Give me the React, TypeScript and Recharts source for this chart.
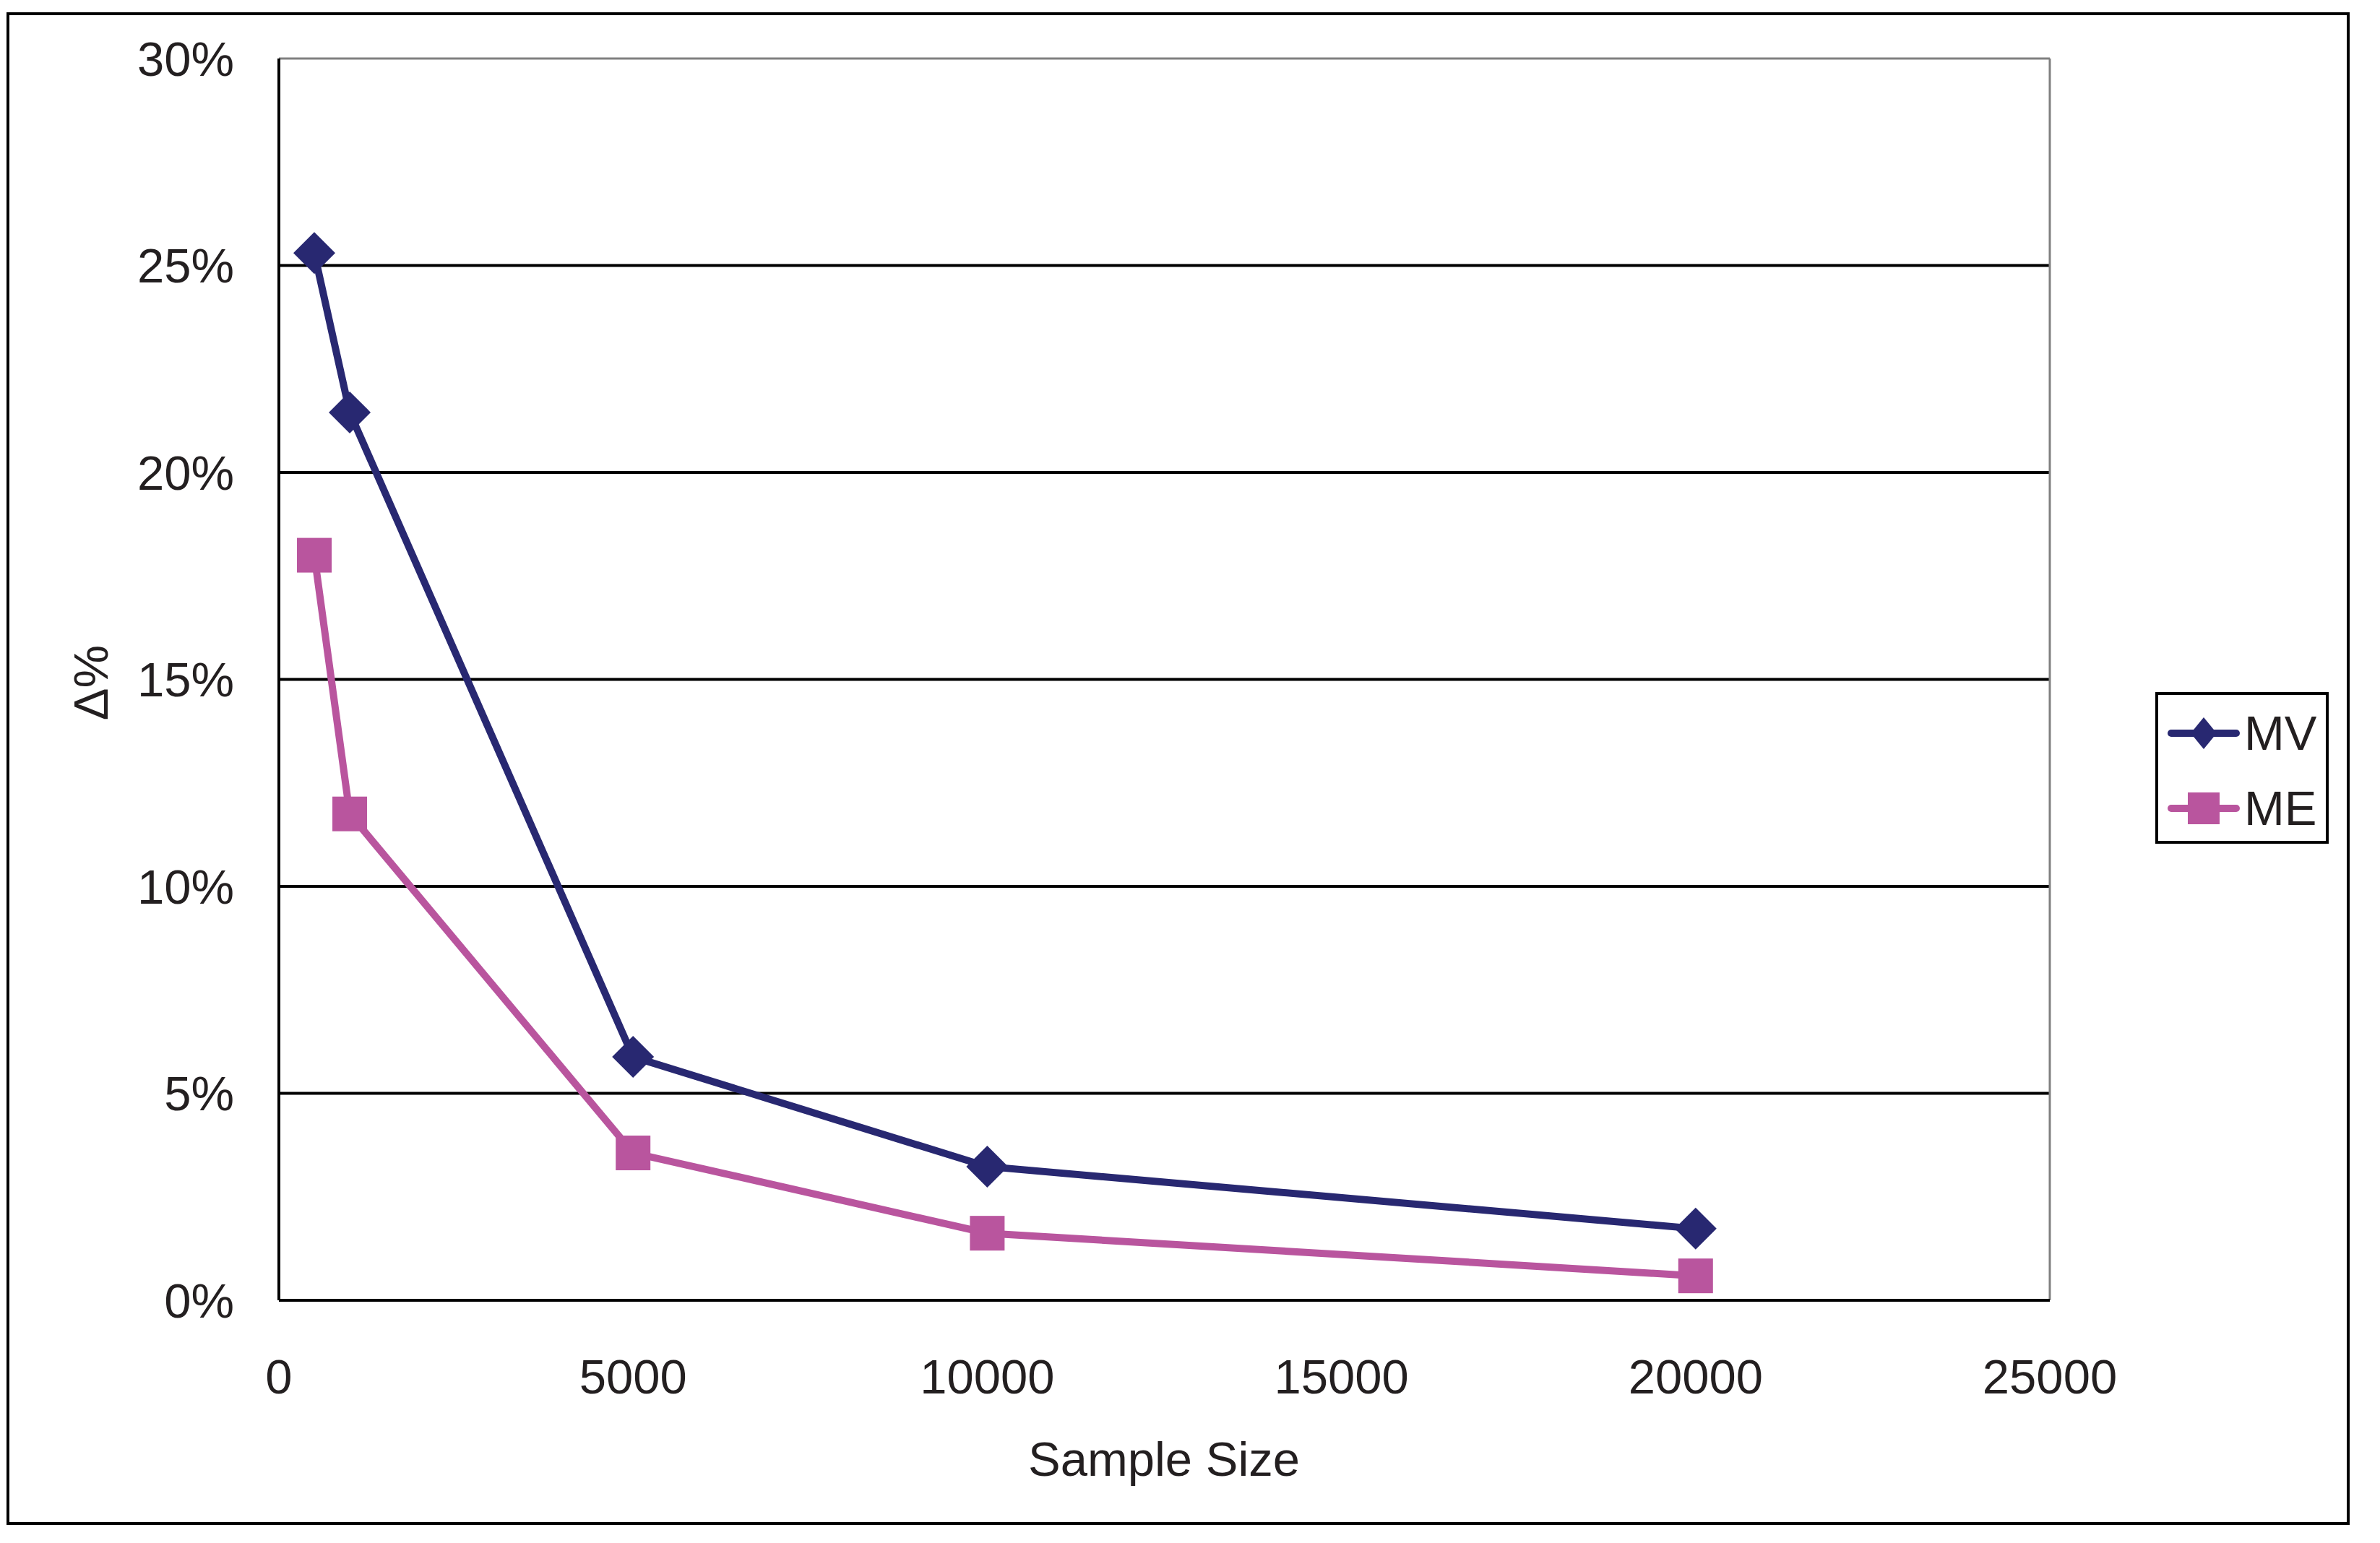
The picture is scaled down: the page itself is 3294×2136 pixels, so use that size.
import { CartesianGrid, Line, LineChart, ReferenceLine, XAxis, YAxis } from "recharts";

const sampleSizes = [500, 1000, 5000, 10000, 20000];
const mvValues = [25.3, 21.45, 5.88, 3.23, 1.73]; // Δ% in percent
const meValues = [18.0, 11.75, 3.56, 1.62, 0.59];
const xTicks = [0, 5000, 10000, 15000, 20000, 25000];
const yTicks = [0, 5, 10, 15, 20, 25, 30];

const rows = sampleSizes.map((n, i) => ({ n, mv: mvValues[i], me: meValues[i] }));

const MV_COLOR = "#282871";
const ME_COLOR = "#b9559e";
const TEXT = "#231f20";
const FONT = "'Liberation Sans', Arial, sans-serif";

const W = 3294;
const H = 2136;

function DiamondDot(props: any) {
  const { cx, cy, index } = props;
  const r = 29;
  return (
    <path
      key={`mv-${index}`}
      d={`M${cx},${cy - r} L${cx + r},${cy} L${cx},${cy + r} L${cx - r},${cy} Z`}
      fill={MV_COLOR}
    />
  );
}

function SquareDot(props: any) {
  const { cx, cy, index } = props;
  const s = 24;
  return <rect key={`me-${index}`} x={cx - s} y={cy - s} width={s * 2} height={s * 2} fill={ME_COLOR} />;
}

export default function App() {
  return (
    <div style={{ position: "absolute", left: 0, top: 0, width: W, height: H, background: "#fff", fontFamily: FONT }}>
      <div
        style={{
          position: "absolute",
          left: 9,
          top: 17,
          width: 3243,
          height: 2094,
          border: "4px solid #000",
          boxSizing: "border-box",
        }}
      />
      <LineChart
        width={W}
        height={H}
        data={rows}
        margin={{ top: 81, right: 457, left: 236, bottom: 236 }}
        style={{ position: "absolute", left: 0, top: 0 }}
      >
        <CartesianGrid horizontal vertical={false} horizontalValues={[5, 10, 15, 20, 25]} stroke="#000" strokeWidth={4} />
        <XAxis
          dataKey="n"
          type="number"
          domain={[0, 25000]}
          ticks={xTicks}
          height={100}
          tickSize={0}
          tickMargin={81}
          axisLine={{ stroke: "#000", strokeWidth: 4 }}
          tick={{ fill: TEXT, fontSize: 67, fontFamily: FONT }}
        />
        <YAxis
          type="number"
          domain={[0, 30]}
          ticks={yTicks}
          width={150}
          tickSize={0}
          tickMargin={62}
          tickFormatter={(v) => `${v}%`}
          axisLine={{ stroke: "#000", strokeWidth: 4 }}
          tick={{ fill: TEXT, fontSize: 67, fontFamily: FONT }}
        />
        <ReferenceLine y={30} stroke="#808080" strokeWidth={3} />
        <ReferenceLine x={25000} stroke="#808080" strokeWidth={3} />
        <Line
          dataKey="mv"
          stroke={MV_COLOR}
          strokeWidth={10}
          dot={DiamondDot}
          activeDot={false}
          isAnimationActive={false}
        />
        <Line
          dataKey="me"
          stroke={ME_COLOR}
          strokeWidth={10}
          dot={SquareDot}
          activeDot={false}
          isAnimationActive={false}
        />
      </LineChart>

      {/* axis titles */}
      <div
        style={{
          position: "absolute",
          left: 1611 - 300,
          width: 600,
          top: 2020 - 40,
          textAlign: "center",
          fontSize: 67,
          lineHeight: "80px",
          color: TEXT,
        }}
      >
        Sample Size
      </div>
      <div
        style={{
          position: "absolute",
          left: 126 - 100,
          top: 945 - 40,
          width: 200,
          textAlign: "center",
          fontSize: 67,
          lineHeight: "80px",
          color: TEXT,
          transform: "rotate(-90deg)",
        }}
      >
        Δ%
      </div>

      {/* legend */}
      <div
        style={{
          position: "absolute",
          left: 2983,
          top: 958,
          width: 240,
          height: 210,
          border: "4px solid #000",
          boxSizing: "border-box",
          background: "#fff",
        }}
      >
        {[
          { name: "MV", color: MV_COLOR, kind: "diamond" },
          { name: "ME", color: ME_COLOR, kind: "square" },
        ].map((item, i) => (
          <div key={item.name} style={{ position: "absolute", left: 13, top: 20 + i * 104, height: 66, display: "flex", alignItems: "center" }}>
            <svg width={100} height={50}>
              <line x1={5} y1={25} x2={95} y2={25} stroke={item.color} strokeWidth={10} strokeLinecap="round" />
              {item.kind === "diamond" ? (
                <path d="M50,3 L68,25 L50,47 L32,25 Z" fill={item.color} />
              ) : (
                <rect x={28} y={3} width={44} height={44} fill={item.color} />
              )}
            </svg>
            <span style={{ fontSize: 67, color: TEXT, lineHeight: "66px", marginLeft: 6 }}>{item.name}</span>
          </div>
        ))}
      </div>
    </div>
  );
}
